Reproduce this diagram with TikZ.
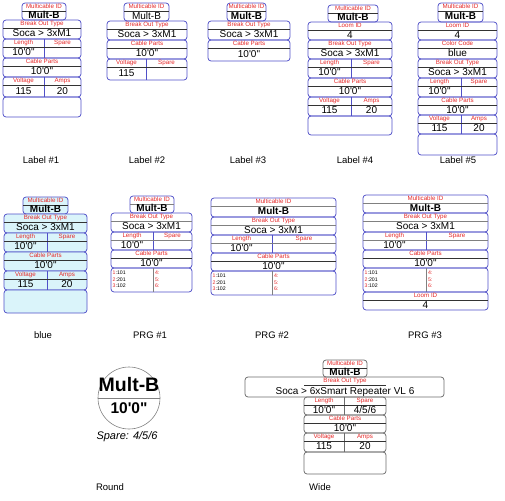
\documentclass[tikz,border=0pt]{standalone}
\usepackage{fontspec}
\setmainfont{Liberation Sans}[Ligatures=TeXOff]
\definecolor{bl}{RGB}{80,80,200}
\definecolor{hred}{RGB}{228,40,40}
\definecolor{lcyan}{RGB}{218,244,250}
\tikzset{
 box/.style={draw=bl, line width=0.75pt, rounded corners=3pt},
 sep/.style={draw=black!80, line width=0.6pt},
 hdr/.style={text=hred, font=\fontsize{6.2}{7}\selectfont, inner sep=0pt, text height=4.5pt, text depth=1.2pt},
 val/.style={font=\fontsize{10}{11}\selectfont, inner sep=0pt, text height=7.2pt, text depth=2pt},
 prg/.style={font=\fontsize{5.2}{6}\selectfont, inner sep=0pt, anchor=west},
 captxt/.style={font=\fontsize{9.5}{11}\selectfont, inner sep=0pt},
 prgdiv/.style={draw=gray, line width=1pt},
}
% #1 x1, #2 x2, #3 y1, #4 y2, #5 header, #6 value
\newcommand{\rowb}[6]{%
 \draw[box] (#1,#3) rectangle (#2,#4);
 \draw[sep] (#1,#3+8) -- (#2,#3+8);
 \node[hdr] at ({(#1+#2)/2},#3+4.2) {#5};
 \node[val] at ({(#1+#2)/2},{(#3+#4+8)/2+0.5}) {#6};}
\newcommand{\idb}[5]{\rowb{#1}{#2}{#3}{#4}{Multicable ID}{#5}}
% #1 x1, #2 xm, #3 x2, #4 y1, #5 y2, #6 h1, #7 v1, #8 h2, #9 v2
\newcommand{\splitb}[9]{%
 \draw[box] (#1,#4) rectangle (#3,#5);
 \draw[box] (#2,#4) -- (#2,#5);
 \draw[sep] (#1,#4+8) -- (#3,#4+8);
 \node[hdr] at ({(#1+#2)/2},#4+4.2) {#6};
 \node[val] at ({(#1+#2)/2},{(#4+#5+8)/2+0.5}) {#7};
 \node[hdr] at ({(#2+#3)/2},#4+4.2) {#8};
 \node[val] at ({(#2+#3)/2},{(#4+#5+8)/2+0.5}) {#9};}
\newcommand{\emptyb}[4]{\draw[box] (#1,#3) rectangle (#2,#4);}
% #1 x1, #2 xm, #3 x2, #4 y1, #5 y2
\newcommand{\prgb}[5]{%
 \draw[box] (#1,#4) rectangle (#3,#5);
 \draw[prgdiv] (#2,#4) -- (#2,#5);
 \node[prg] at (#1+1.5,#4+5) {\textcolor{hred}{1}:101};
 \node[prg] at (#1+1.5,#4+11.5) {\textcolor{hred}{2}:201};
 \node[prg] at (#1+1.5,#4+18) {\textcolor{hred}{3}:102};
 \node[prg] at (#2+2,#4+5) {\textcolor{hred}{4:}};
 \node[prg] at (#2+2,#4+11.5) {\textcolor{hred}{5:}};
 \node[prg] at (#2+2,#4+18) {\textcolor{hred}{6:}};}
\begin{document}
\begin{tikzpicture}[x=1pt,y=-1pt]
\useasboundingbox (0,0) rectangle (505,500);
% Label #1
\idb{22}{66}{3}{20}{\bfseries Mult-B}
\rowb{3}{81}{20}{39}{Break Out Type}{Soca > 3xM1}
\splitb{3}{44}{81}{39}{58}{Length}{10'0"}{Spare}{}
\rowb{3}{81}{58}{77}{Cable Parts}{10'0"}
\splitb{3}{44}{81}{77}{97}{Voltage}{115}{Amps}{20}
\emptyb{3}{81}{97}{117}
\node[captxt] (c1) at (41,160) {Label \#1};
% Label #2
\idb{124}{169}{3}{21}{Mult-B}
\rowb{107}{187}{21}{40}{Break Out Type}{Soca > 3xM1}
\rowb{107}{187}{40}{59}{Cable Parts}{10'0"}
\splitb{107}{146}{187}{59}{80}{Voltage}{115}{Spare}{}
\node[captxt] (c2) at (147,160) {Label \#2};
% Label #3
\idb{227}{266}{3}{21}{\bfseries Mult-B}
\rowb{208}{290}{21}{40}{Break Out Type}{Soca > 3xM1}
\rowb{208}{290}{40}{61}{Cable Parts}{10'0"}
\node[captxt] (c3) at (248,160) {Label \#3};
% Label #4
\idb{328}{378}{5}{22}{\bfseries Mult-B}
\rowb{308}{392}{22}{40}{Loom ID}{4}
\rowb{308}{392}{40}{59}{Break Out Type}{Soca > 3xM1}
\splitb{308}{351}{392}{59}{78}{Length}{10'0"}{Spare}{}
\rowb{308}{392}{78}{97}{Cable Parts}{10'0"}
\splitb{308}{351}{392}{97}{116}{Voltage}{115}{Amps}{20}
\emptyb{308}{392}{116}{135}
\node[captxt] (c4) at (355,160) {Label \#4};
% Label #5
\idb{438}{483}{3}{22}{\bfseries Mult-B}
\rowb{418}{497}{22}{40}{Loom ID}{4}
\rowb{418}{497}{40}{59}{Color Code}{blue}
\rowb{418}{497}{59}{78}{Break Out Type}{Soca > 3xM1}
\splitb{418}{461}{497}{78}{97}{Length}{10'0"}{Spare}{}
\rowb{418}{497}{97}{115}{Cable Parts}{10'0"}
\splitb{418}{461}{497}{115}{134}{Voltage}{115}{Amps}{20}
\emptyb{418}{497}{134}{155}
\node[captxt] (c5) at (458,160) {Label \#5};
% blue
\begin{scope}[box/.append style={fill=lcyan}]
\idb{23}{68}{197}{214}{\bfseries Mult-B}
\rowb{4}{87}{214}{233}{Break Out Type}{Soca > 3xM1}
\splitb{4}{47}{87}{233}{252}{Length}{10'0"}{Spare}{}
\rowb{4}{87}{252}{271}{Cable Parts}{10'0"}
\splitb{4}{47}{87}{271}{290}{Voltage}{115}{Amps}{20}
\emptyb{4}{87}{290}{313}
\end{scope}
\node[captxt] (c6) at (43,335) {blue};
% PRG #1
\begin{scope}[sep/.append style={draw=gray, line width=1pt}]
\idb{130}{174}{196}{213}{\bfseries Mult-B}
\rowb{111}{192}{213}{232}{Break Out Type}{Soca > 3xM1}
\splitb{111}{153}{192}{232}{250}{Length}{10'0"}{Spare}{}
\end{scope}
\rowb{111}{192}{250}{268}{Cable Parts}{10'0"}
\prgb{111}{153}{192}{268}{292}
\node[captxt] (c7) at (150,335) {PRG \#1};
% PRG #2
\begin{scope}[sep/.append style={draw=gray, line width=1pt}]
\rowb{211}{336}{198}{217}{Multicable ID}{\bfseries Mult-B}
\rowb{211}{336}{217}{235}{Break Out Type}{Soca > 3xM1}
\splitb{211}{272}{336}{235}{253}{Length}{10'0"}{Spare}{}
\end{scope}
\rowb{211}{336}{253}{271}{Cable Parts}{10'0"}
\prgb{211}{272}{336}{271}{295}
\node[captxt] (c8) at (272,335) {PRG \#2};
% PRG #3
\begin{scope}[sep/.append style={draw=gray, line width=1pt}]
\rowb{363}{488}{195}{213}{Multicable ID}{\bfseries Mult-B}
\rowb{363}{488}{213}{232}{Break Out Type}{Soca > 3xM1}
\splitb{363}{426}{488}{232}{250}{Length}{10'0"}{Spare}{}
\end{scope}
\rowb{363}{488}{250}{268}{Cable Parts}{10'0"}
\prgb{363}{426}{488}{268}{292}
\rowb{363}{488}{292}{310}{Loom ID}{4}
\node[captxt] (c9) at (425,335) {PRG \#3};
% Round
\node[circle, draw=gray, line width=0.6pt, minimum size=62pt, inner sep=0pt] (rc) at (129,398) {};
\draw[gray, line width=0.6pt] (rc.west) -- (rc.east);
\node[font=\fontsize{19.5}{20}\selectfont\bfseries, inner sep=0pt] (rm) at (129,385) {Mult-B};
\node[font=\fontsize{15.5}{16}\selectfont\bfseries, inner sep=0pt] (rl) at (129,408) {10'0"};
\node[font=\fontsize{11}{12}\selectfont\itshape, inner sep=0pt] (rs) at (127,437) {Spare: 4/5/6};
\node[captxt] (c10) at (110,487) {Round};
% Wide
\begin{scope}[box/.append style={draw=gray!85!black}]
\idb{323}{367}{360}{377}{\bfseries Mult-B}
\draw[box] (245,377) rectangle (444,397);
\draw[sep] (304,385) -- (386,385);
\node[hdr] at (345,381.2) {Break Out Type};
\node[val] at (345,392) {Soca > 6xSmart Repeater VL 6};
\splitb{304}{344}{386}{397}{415}{Length}{10'0"}{Spare}{4/5/6}
\rowb{304}{386}{415}{433}{Cable Parts}{10'0"}
\splitb{304}{344}{386}{433}{452}{Voltage}{115}{Amps}{20}
\emptyb{304}{386}{452}{474}
\end{scope}
\node[captxt] (c11) at (320,487) {Wide};
\end{tikzpicture}
\end{document}
